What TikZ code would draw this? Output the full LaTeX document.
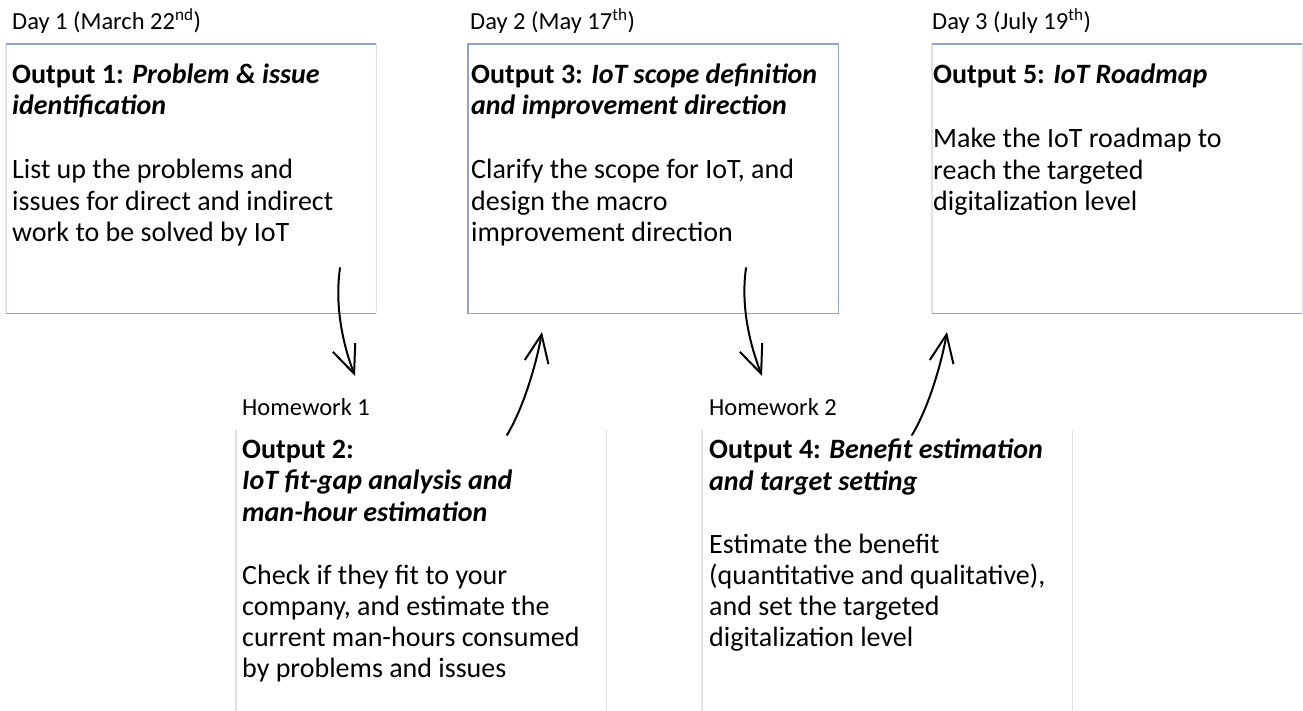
\documentclass[tikz,border=0pt]{standalone}
\usepackage{fontspec}
\setmainfont{Carlito}
\usetikzlibrary{arrows.meta}
\definecolor{rulecol}{RGB}{143,163,199}
\definecolor{faintcol}{RGB}{221,227,237}
\begin{document}
% text blocks are anchored at the baseline of their last line
\begin{tikzpicture}[x=1pt,y=-1pt,
  lbl/.style={anchor=base west, inner sep=0pt, font=\fontsize{24.5}{29}\selectfont},
  txt/.style={anchor=base west, inner sep=0pt, align=left, font=\fontsize{28}{31.3}\selectfont},
  frame/.style={draw=none, inner sep=0pt, minimum width=370pt, minimum height=269pt, anchor=north west},
  hwframe/.style={frame, minimum height=281pt},
  edge/.style={draw=rulecol, line width=1.4pt},
  side/.style={draw=faintcol, line width=1.2pt},
  flow/.style={line width=2pt, line cap=round,
    -{Straight Barb[length=28pt,width=24pt,line width=2pt]}}
]
\useasboundingbox (0,0) rectangle (1303,711);
\fill[white] (0,0) rectangle (1303,711);

% ---- Day 1 ----
\node[lbl] (day1) at (12,30) {Day 1 (March 22\textsuperscript{nd})};
\node[frame] (box1) at (6,44) {};
\draw[side] (box1.north west) -- (box1.south west);
\draw[side] (box1.north east) -- (box1.south east);
\draw[edge] (box1.north west) -- (box1.north east);
\draw[edge] (box1.south west) -- (box1.south east);
\node[txt] (head1) at (12,115) {\textbf{Output 1: \textit{Problem \& issue}}\\\textbf{\textit{identification}}};
\node[txt] (body1) at (12,241.6) {List up the problems and\\issues for direct and indirect\\work to be solved by IoT};

% ---- Day 2 ----
\node[lbl] (day2) at (470,30) {Day 2 (May 17\textsuperscript{th})};
\node[frame] (box3) at (468,44) {};
\draw[edge] (box3.north west) rectangle (box3.south east);
\node[txt] (head3) at (471,115) {\textbf{Output 3: \textit{IoT scope definition}}\\\textbf{\textit{and improvement direction}}};
\node[txt] (body3) at (471,241.6) {Clarify the scope for IoT, and\\design the macro\\improvement direction};

% ---- Day 3 ----
\node[lbl] (day3) at (932,30) {Day 3 (July 19\textsuperscript{th})};
\node[frame] (box5) at (932,44) {};
\draw[side] (box5.north west) -- (box5.south west);
\draw[side] (box5.north east) -- (box5.south east);
\draw[edge] (box5.north west) -- (box5.north east);
\draw[edge] (box5.south west) -- (box5.south east);
\node[txt] (head5) at (933,84) {\textbf{Output 5: \textit{IoT Roadmap}}};
\node[txt] (body5) at (933,210.6) {Make the IoT roadmap to\\reach the targeted\\digitalization level};

% ---- Homework 1 ----
\node[lbl] (hw1) at (242,415) {Homework 1};
\node[hwframe] (box2) at (236,430) {};
\draw[side] (box2.north west) -- (box2.south west);
\draw[side] (box2.north east) -- (box2.south east);
\node[txt] (head2) at (242,521) {\textbf{Output 2:}\\\textbf{\textit{IoT fit-gap analysis and}}\\\textbf{\textit{man-hour estimation}}};
\node[txt] (body2) at (242,677.9) {Check if they fit to your\\company, and estimate the\\current man-hours consumed\\by problems and issues};

% ---- Homework 2 ----
\node[lbl] (hw2) at (709,415) {Homework 2};
\node[hwframe] (box4) at (702,430) {};
\draw[side] (box4.north west) -- (box4.south west);
\draw[side] (box4.north east) -- (box4.south east);
\node[txt] (head4) at (709,490) {\textbf{Output 4: \textit{Benefit estimation}}\\\textbf{\textit{and target setting}}};
\node[txt] (body4) at (709,646.9) {Estimate the benefit\\(quantitative and qualitative),\\and set the targeted\\digitalization level};

% ---- hand-drawn flow arrows ----
\coordinate (a1s) at (340,268); \coordinate (a1e) at (355,376);
\coordinate (a2s) at (507,435); \coordinate (a2e) at (542,332);
\coordinate (a3s) at (746,268); \coordinate (a3e) at (762,376);
\coordinate (a4s) at (912,435); \coordinate (a4e) at (947,332);
\draw[flow] (a1s) .. controls +(-6,42) and +(-10,-26) .. (a1e);
\draw[flow] (a2s) .. controls +(18,-30) and +(-5,28) .. (a2e);
\draw[flow] (a3s) .. controls +(-6,42) and +(-10,-26) .. (a3e);
\draw[flow] (a4s) .. controls +(18,-30) and +(-5,28) .. (a4e);
\end{tikzpicture}
\end{document}
